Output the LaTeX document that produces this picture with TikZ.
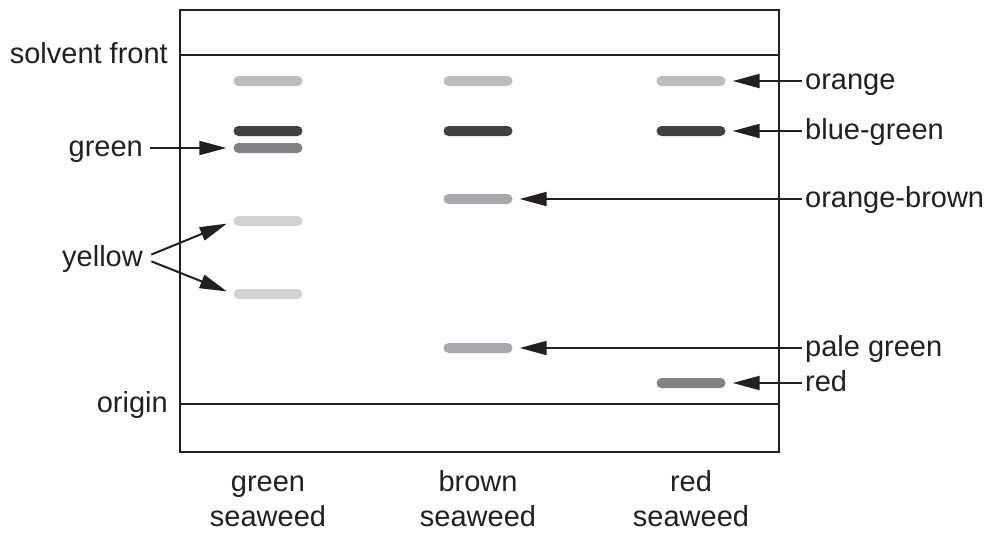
\documentclass[tikz,border=0pt]{standalone}
\usepackage{fontspec}
\setmainfont{Liberation Sans}
\usetikzlibrary{arrows.meta}
\definecolor{ink}{HTML}{231F20}
\definecolor{bandA}{HTML}{BCBDBF}
\definecolor{bandB}{HTML}{414042}
\definecolor{bandC}{HTML}{808285}
\definecolor{bandD}{HTML}{D1D2D4}
\definecolor{bandE}{HTML}{A7A9AC}
\begin{document}
\begin{tikzpicture}[x=1pt,y=-1pt,
    font=\fontsize{29}{35}\selectfont, every node/.style={text=ink},
    band/.style={minimum width=69pt,minimum height=10pt,inner sep=0pt,rounded corners=5pt},
    lbl/.style={inner sep=0pt},
    pointer/.style={draw=ink,line width=2pt,-{Triangle[length=27pt,width=14pt]},shorten >=7pt}]
  \useasboundingbox (0,0) rectangle (990,536);
  % plate
  \draw [ink,line width=2.5pt] (180,10) rectangle (779,452);
  \coordinate (sfL) at (180,55);   \coordinate (sfR) at (779,55);
  \coordinate (orL) at (180,404);  \coordinate (orR) at (779,404);
  \draw [ink,line width=2pt] (sfL) -- (sfR);
  \draw [ink,line width=2pt] (orL) -- (orR);
  \node [lbl,anchor=base east] (solvent) at (168,63) {solvent front};
  \node [lbl,anchor=base east] (origin) at (168,412) {origin};
  % green seaweed
  \node [band,fill=bandA] (g1) at (268,81) {};
  \node [band,fill=bandB] (g2) at (268,131) {};
  \node [band,fill=bandC] (g3) at (268,148) {};
  \node [band,fill=bandD] (g4) at (268,221) {};
  \node [band,fill=bandD] (g5) at (268,294) {};
  % brown seaweed
  \node [band,fill=bandA] (b1) at (478,81) {};
  \node [band,fill=bandB] (b2) at (478,131) {};
  \node [band,fill=bandE] (b3) at (478,199) {};
  \node [band,fill=bandE] (b4) at (478,348) {};
  % red seaweed
  \node [band,fill=bandA] (r1) at (691,81) {};
  \node [band,fill=bandB] (r2) at (691,131) {};
  \node [band,fill=bandC] (r3) at (691,383) {};
  % pigment labels
  \node [lbl,anchor=base east] (green) at (143,156) {green};
  \node [lbl,anchor=base east] (yellow) at (143,266) {yellow};
  \node [lbl,anchor=base west] (orange) at (805,89) {orange};
  \node [lbl,anchor=base west] (bluegreen) at (805,139) {blue-green};
  \node [lbl,anchor=base west] (orbrown) at (805,207) {orange-brown};
  \node [lbl,anchor=base west] (palegreen) at (805,356) {pale green};
  \node [lbl,anchor=base west] (red) at (805,391) {red};
  \draw [pointer,shorten <=7pt] (green.east |- g3) -- (g3.west);
  \draw [pointer,shorten <=9pt] (yellow.east |- 0,258) -- (g4.west);
  \draw [pointer,shorten <=9pt] (yellow.east |- 0,258) -- (g5.west);
  \draw [pointer,shorten <=3pt] (orange.west |- r1) -- (r1.east);
  \draw [pointer,shorten <=3pt] (bluegreen.west |- r2) -- (r2.east);
  \draw [pointer,shorten <=3pt] (orbrown.west |- b3) -- (b3.east);
  \draw [pointer,shorten <=3pt] (palegreen.west |- b4) -- (b4.east);
  \draw [pointer,shorten <=3pt] (red.west |- r3) -- (r3.east);
  % sample names
  \node [lbl,align=center,anchor=base] (gsw) at (268,526) {green\\seaweed};
  \node [lbl,align=center,anchor=base] (bsw) at (478,526) {brown\\seaweed};
  \node [lbl,align=center,anchor=base] (rsw) at (691,526) {red\\seaweed};
\end{tikzpicture}
\end{document}
